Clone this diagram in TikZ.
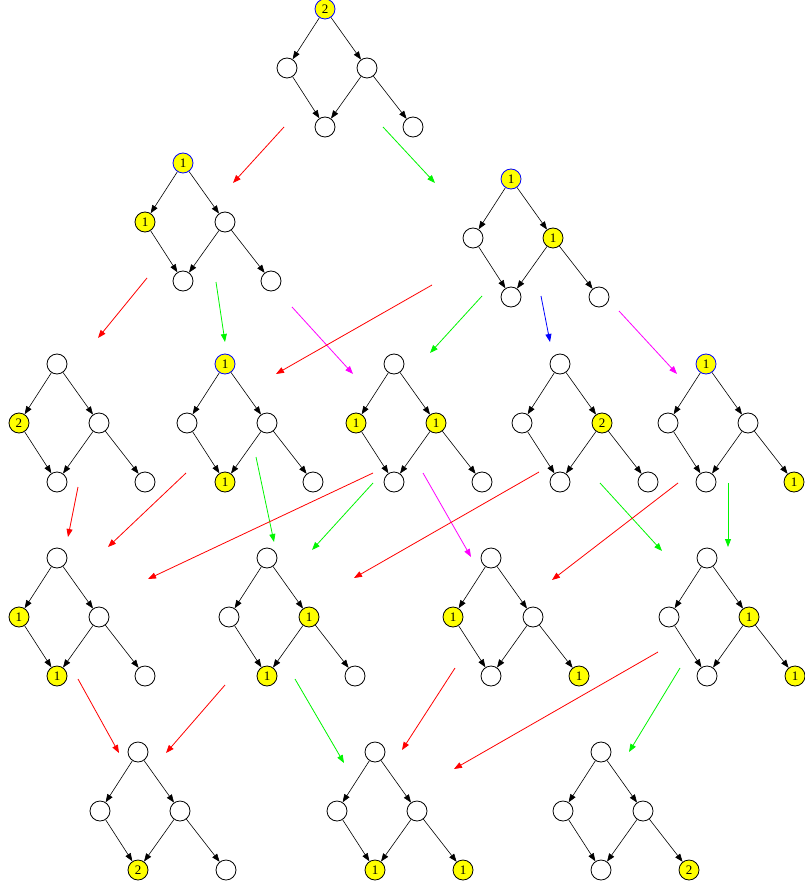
\documentclass[tikz,border=0pt]{standalone}
\usepackage{fontspec}
\setmainfont{Liberation Serif}
\usetikzlibrary{arrows.meta}
\definecolor{tred}{RGB}{255,0,0}
\definecolor{tgreen}{RGB}{0,245,0}
\definecolor{tblue}{RGB}{0,0,255}
\definecolor{tmag}{RGB}{255,0,255}
\definecolor{tyel}{RGB}{255,255,0}
\tikzset{
  place/.style={circle, draw=black, line width=0.8pt, minimum size=20pt, inner sep=0pt,
    font=\fontsize{13}{13}\selectfont},
  e/.style={place, node contents={}},
  a/.style={place, fill=tyel, node contents={1}},
  b/.style={place, fill=tyel, node contents={2}},
  ta/.style={a, draw=tblue},
  tb/.style={b, draw=tblue},
  edge/.style={line width=0.6pt, -{Triangle[length=8pt,width=6pt]}},
  tr/.style={line width=0.8pt, -{Triangle[length=8pt,width=6pt]}}
}
\newcommand\gph[8]{%
  \node (#1t) at (#2,#3) [#4];
  \node (#1l) at (#2-38,#3+59) [#5];
  \node (#1r) at (#2+42,#3+59) [#6];
  \node (#1m) at (#2,#3+118) [#7];
  \node (#1b) at (#2+88,#3+118) [#8];
  \draw[edge] (#1t) -- (#1l);
  \draw[edge] (#1t) -- (#1r);
  \draw[edge] (#1l) -- (#1m);
  \draw[edge] (#1r) -- (#1m);
  \draw[edge] (#1r) -- (#1b);
}
\newcommand\trn[4]{%
  \coordinate (#1s) at (#3);
  \coordinate (#1e) at (#4);
  \draw[tr, #2] (#1s) -- (#1e);
}
\begin{document}
\begin{tikzpicture}[x=1pt, y=-1pt]
\useasboundingbox (0,0) rectangle (804,890);
% row 1
\gph{ga}{325}{9}{tb}{e}{e}{e}{e}
% row 2
\gph{gb}{183}{163}{ta}{a}{e}{e}{e}
\gph{gc}{511}{179}{ta}{e}{a}{e}{e}
% row 3
\gph{gd}{57}{364}{e}{b}{e}{e}{e}
\gph{ge}{225}{364}{ta}{e}{e}{a}{e}
\gph{gf}{394}{364}{e}{a}{a}{e}{e}
\gph{gg}{560}{364}{e}{e}{b}{e}{e}
\gph{gh}{706}{364}{ta}{e}{e}{e}{a}
% row 4
\gph{gi}{57}{558}{e}{a}{e}{a}{e}
\gph{gj}{267}{558}{e}{e}{a}{a}{e}
\gph{gk}{491}{558}{e}{a}{e}{e}{a}
\gph{gl}{707}{558}{e}{e}{a}{e}{a}
% row 5
\gph{gm}{138}{752}{e}{e}{e}{b}{e}
\gph{gn}{375}{752}{e}{e}{e}{a}{a}
\gph{go}{601}{752}{e}{e}{e}{e}{b}
% transitions
\trn{t1}{tred}{284,127}{233,183}
\trn{t2}{tgreen}{383,127}{435,183}
\trn{t3}{tred}{147,278}{98,338}
\trn{t4}{tgreen}{216,282}{225,342}
\trn{t5}{tmag}{292,307}{353,374}
\trn{t6}{tred}{432,285}{276,374}
\trn{t7}{tgreen}{482,296}{430,353}
\trn{t8}{tblue}{541,296}{550,342}
\trn{t9}{tmag}{619,311}{677,374}
\trn{t10}{tred}{78,487}{68,537}
\trn{t11}{tred}{186,473}{108,547}
\trn{t12}{tgreen}{256,457}{274,542}
\trn{t13}{tred}{373,473}{148,579}
\trn{t14}{tgreen}{373,483}{312,550}
\trn{t15}{tmag}{423,473}{471,557}
\trn{t16}{tred}{539,472}{354,578}
\trn{t17}{tgreen}{600,483}{662,551}
\trn{t18}{tred}{678,483}{552,580}
\trn{t19}{tgreen}{728,483}{728,547}
\trn{t20}{tred}{78,679}{119,753}
\trn{t21}{tred}{225,685}{166,753}
\trn{t22}{tgreen}{295,679}{344,763}
\trn{t23}{tred}{455,668}{402,750}
\trn{t24}{tred}{658,652}{454,769}
\trn{t25}{tgreen}{680,668}{629,752}
\end{tikzpicture}
\end{document}
